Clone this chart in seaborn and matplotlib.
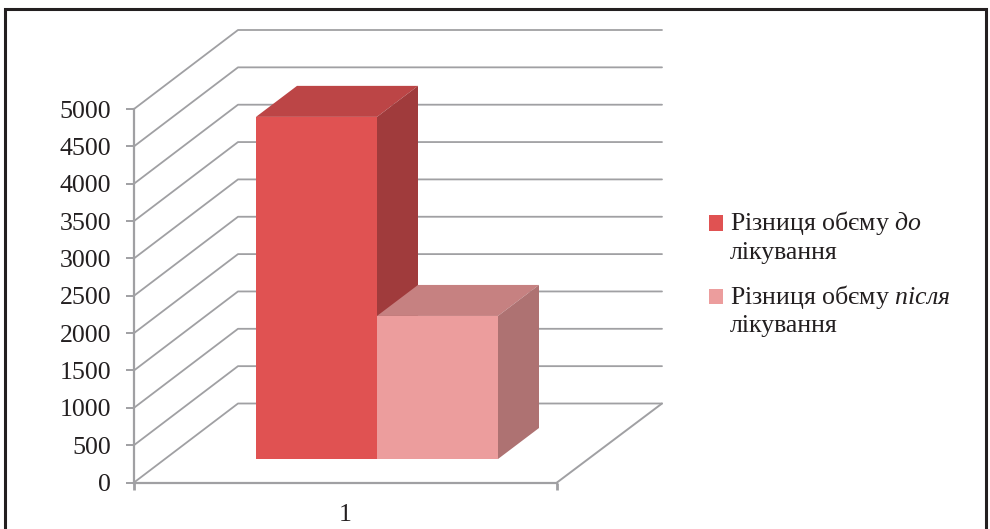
import matplotlib
matplotlib.use("Agg")
import matplotlib.pyplot as plt
from matplotlib.legend_handler import HandlerPatch
from matplotlib.patches import Polygon, Patch, Rectangle
import pandas as pd
import seaborn as sns

categories = ["1"]
series_names = ["before", "after"]
values_before = [4580]
values_after = [1915]
y_ticks = [0, 500, 1000, 1500, 2000, 2500, 3000, 3500, 4000, 4500, 5000]
label_before = "Різниця обєму $\\mathit{до}$\nлікування"
label_after = "Різниця обєму $\\mathit{після}$\nлікування"

sns.set_theme(style="white")
plt.rcParams["font.family"] = ["Liberation Serif", "DejaVu Serif"]
plt.rcParams["mathtext.fontset"] = "custom"
plt.rcParams["mathtext.rm"] = "Liberation Serif"
plt.rcParams["mathtext.it"] = "Liberation Serif:italic"
plt.rcParams["mathtext.bf"] = "Liberation Serif:bold"

W, H = 990, 529
GREY = "#a0a0a3"
TEXT = "#231f20"
FRONT = ["#e05252", "#ec9d9d"]
TOP = ["#bc4546", "#c68181"]
SIDE = ["#a03b3c", "#ae7272"]

fig = plt.figure(figsize=(W / 100, H / 100), dpi=100, facecolor="white")

# outer frame
fig.add_artist(Rectangle((4.5 / W, -0.05), 981 / W, 1.05 - 9 / H, transform=fig.transFigure,
                         fill=False, edgecolor="#231f20", linewidth=2.2))

# plot rectangle in pixels
L, R, B, T = 134, 557, 482.5, 109
def rect(l, r, b, t):
    return [l / W, 1 - b / H, (r - l) / W, (b - t) / H]

ax = fig.add_axes(rect(L, R, B, T))
ax.patch.set_alpha(0)
ax.set_xlim(-0.5, 0.5)
ax.set_ylim(0, 5000)
sx = 1 / (R - L)
sy = 5000 / (B - T)

# oblique wall and floor
DX, DY = 104 * sx, 79 * sy
WALL_R = 0.5 + 105 * sx
for v in y_ticks:
    ax.plot([-0.5, -0.5 + DX, WALL_R], [v, v + DY, v + DY], color=GREY, lw=1.3,
            clip_on=False, zorder=1, solid_joinstyle="round")
ax.plot([0.5, WALL_R], [0, DY], color=GREY, lw=1.4, clip_on=False, zorder=1)

ax.set_yticks(y_ticks)
ax.set_xticks([0])
ax.set_xticklabels(categories)
ax.set_xticks([-0.5, 0.5], minor=True)
ax.tick_params(axis="y", length=5.8, width=1.4, color=GREY, pad=10.5, labelsize=18.6, labelcolor=TEXT, left=True)
ax.tick_params(axis="x", which="major", length=0, pad=15.5, labelsize=18.6, labelcolor=TEXT)
ax.tick_params(axis="x", which="minor", length=5, width=2, color=GREY, bottom=True)
sns.despine(ax=ax, top=True, right=True)
for s in ("left", "bottom"):
    ax.spines[s].set_color(GREY)
    ax.spines[s].set_linewidth(1.6)

# bars: same scale, shifted into the depth of the floor
bx = fig.add_axes(rect(L + 31.5, R + 31.5, 459, T - 23.5))
bx.patch.set_alpha(0)
df = pd.DataFrame({
    "category": categories * 2,
    "series": series_names,
    "value": values_before + values_after,
})
sns.barplot(data=df, x="category", y="value", hue="series", hue_order=series_names,
            palette=FRONT, width=242 / (R - L), saturation=1, gap=0, legend=False,
            linewidth=0, ax=bx)
bx.set_xlim(-0.5, 0.5)
bx.set_ylim(0, 5000)
bx.axis("off")

BDX, BDY = 41 * sx, 31 * sy
for i, bar in enumerate(bx.patches[:2]):
    x0, x1 = bar.get_x(), bar.get_x() + bar.get_width()
    h = bar.get_height()
    z = 2 + 2 * i
    bar.set_zorder(z + 1)
    bx.add_patch(Polygon([(x0, h), (x0 + BDX, h + BDY), (x1 + BDX, h + BDY), (x1, h)],
                         facecolor=TOP[i], edgecolor="none", zorder=z, clip_on=False))
    bx.add_patch(Polygon([(x1, 0), (x1 + BDX, BDY), (x1 + BDX, h + BDY), (x1, h)],
                         facecolor=SIDE[i], edgecolor="none", zorder=z, clip_on=False))

def swatch(legend, orig_handle, xdescent, ydescent, width, height, fontsize):
    # lowered so that it sits on the centre of the label's first line
    return Rectangle((-xdescent, -ydescent - 4.4), width, height)

handles = [Patch(facecolor=FRONT[0], edgecolor="none"), Patch(facecolor=FRONT[1], edgecolor="none")]
leg = fig.legend(handles, [label_before, label_after], loc="upper left",
                 bbox_to_anchor=(709 / W, 1 - 209 / H), frameon=False, fontsize=18.6,
                 handlelength=0.56, handleheight=0.56, handletextpad=0.25,
                 labelspacing=0.72, borderpad=0, borderaxespad=0, labelcolor=TEXT,
                 handler_map={Patch: HandlerPatch(patch_func=swatch)})
# keep each swatch beside the first line of its label
for row in leg._legend_handle_box.get_children()[0].get_children():
    row.align = "top"
for t in leg.get_texts():
    t.set_linespacing(1.29)

fig.savefig("out.png", dpi=100)
